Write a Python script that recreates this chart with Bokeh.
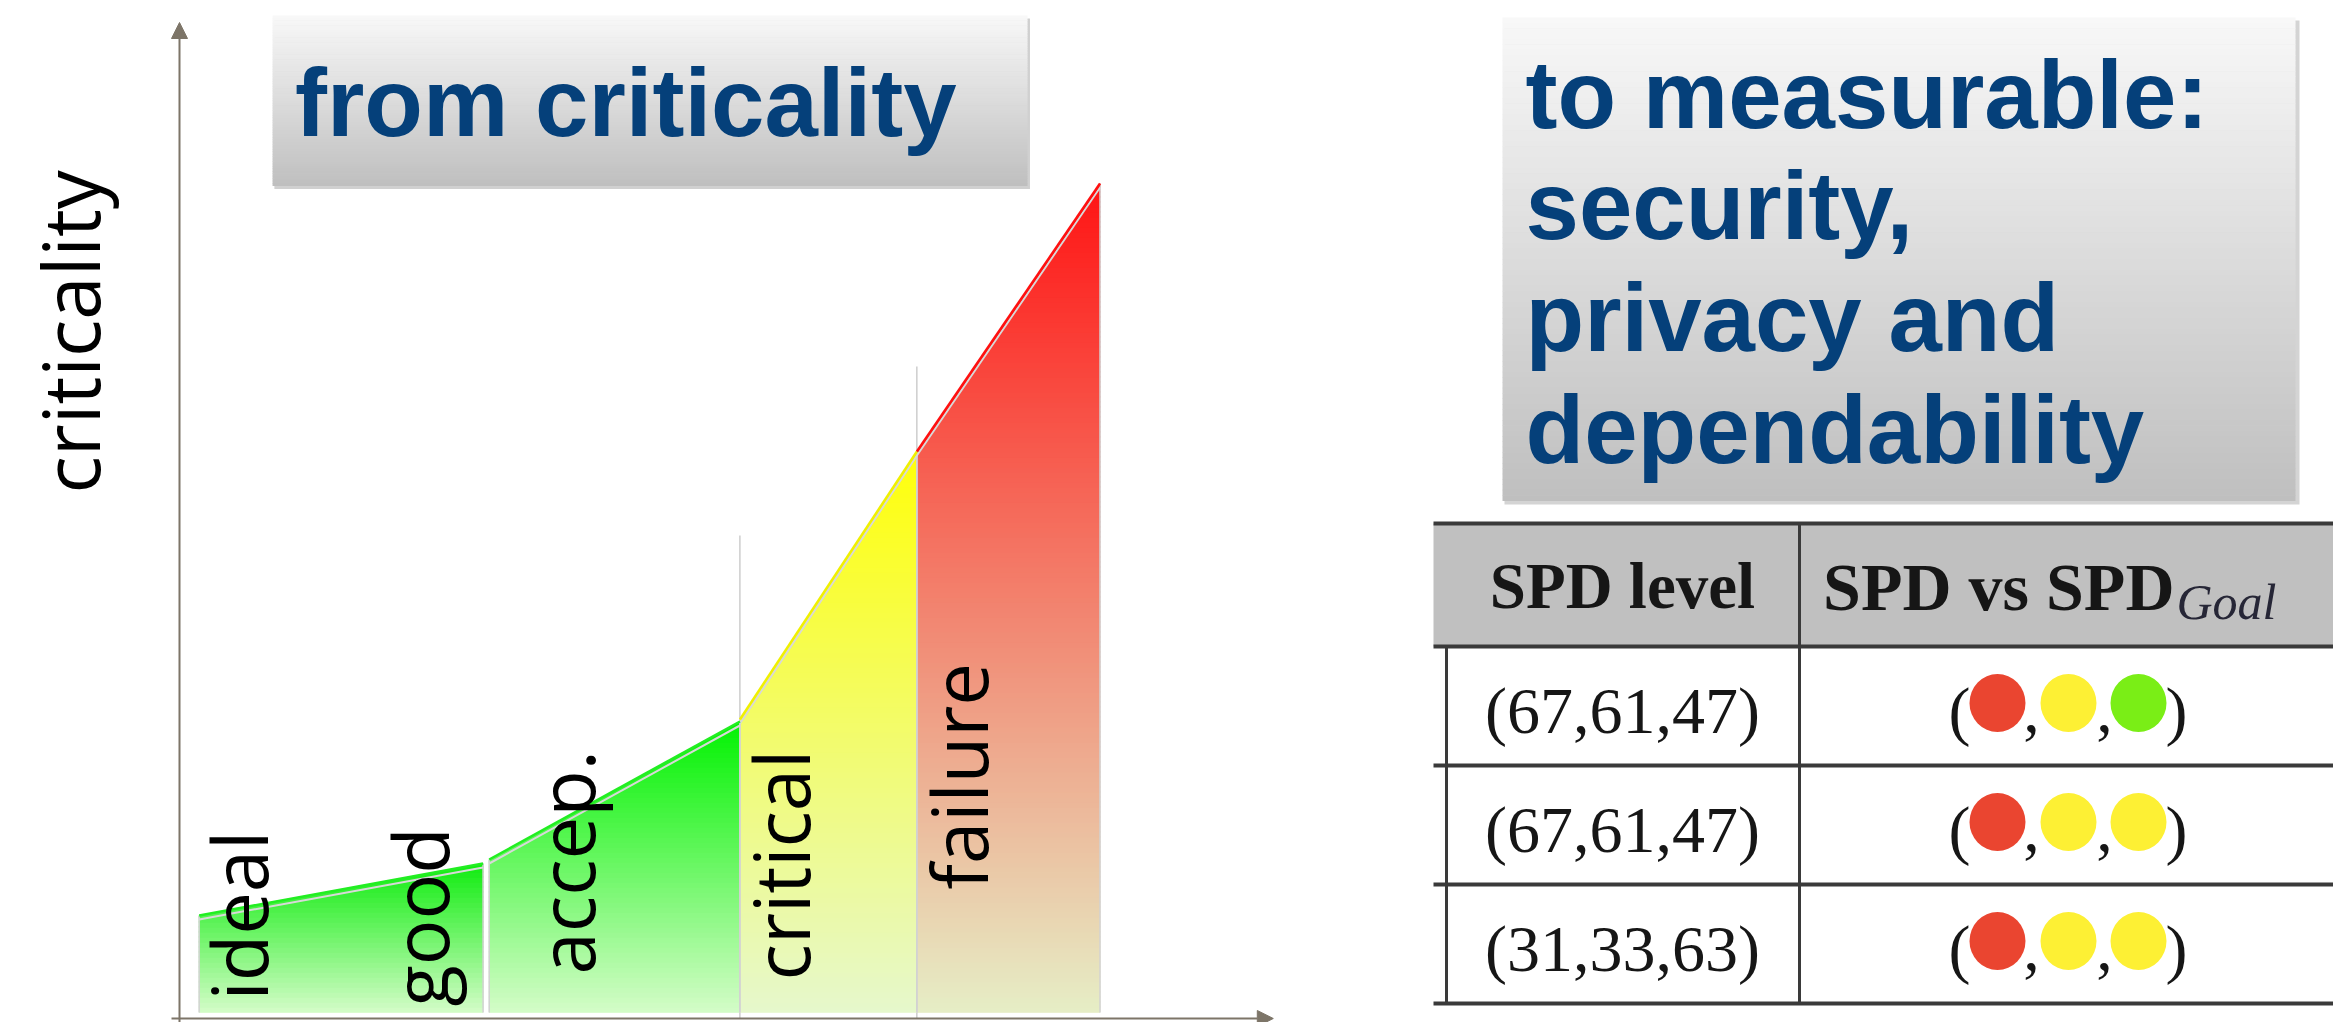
import math
from bokeh.plotting import figure
from bokeh.layouts import row
from bokeh.models import Range1d, Arrow, NormalHead
from bokeh.core.properties import value
from bokeh.embed import file_html
from bokeh.resources import INLINE

# ---------------- data ----------------
axis_title = "criticality"
left_title = "from criticality"
right_title_lines = ["to measurable:", "security,", "privacy and", "dependability"]

# criticality zones (x in state units, top = criticality at zone start / end)
zone_names = ["ideal-good", "accep.", "critical", "failure"]
zone_x_start = [1.6, 25.2, 45.6, 60.0]
zone_x_end = [24.7, 45.6, 60.0, 74.9]
zone_top_start = [10.3, 15.9, 29.9, 56.7]
zone_top_end = [15.5, 29.7, 56.7, 83.5]
zone_color_top = ["#10ec10", "#02f202", "#ffff0a", "#ff1414"]
zone_color_bottom = ["#d4fcc8", "#d4fcc8", "#e6f8cc", "#e6eec6"]
zone_edge_color = ["#22ee22", "#22ee22", "#f0f000", "#ff1010"]

threshold_x = [45.6, 60.0]
threshold_top = [48.3, 65.2]

level_labels = ["ideal", "good", "accep.", "critical", "failure"]
level_label_x = [7.2, 21.9, 33.8, 51.3, 65.8]
level_label_y = [1.8, 1.2, 4.4, 3.8, 12.9]

table_header = ["SPD level", "SPD vs SPD"]
table_header_sub = "Goal"
spd_levels = ["(67,61,47)", "(67,61,47)", "(31,33,63)"]
spd_vs_goal = [["red", "yellow", "green"],
               ["red", "yellow", "yellow"],
               ["red", "yellow", "yellow"]]
status_colors = {"red": "#ea4530", "yellow": "#fdf034", "green": "#7aee16"}

# ---------------- helpers ----------------
LIB_MID = 0.3465   # (ascent - descent) / 2 for Liberation fonts
OS_MID = 0.388     # same for Open Sans

def hex2rgb(h):
    h = h.lstrip("#")
    return tuple(int(h[i:i + 2], 16) for i in (0, 2, 4))

def lerp(c1, c2, t):
    t = max(0.0, min(1.0, t))
    a, b = hex2rgb(c1), hex2rgb(c2)
    return "#%02x%02x%02x" % tuple(int(round(a[k] + (b[k] - a[k]) * t)) for k in range(3))

def clip_band(xs, ys, ylo, yhi):
    def clip(pts, keep, yc):
        out = []
        n = len(pts)
        for i in range(n):
            cur, prev = pts[i], pts[i - 1]
            cin, pin = keep(cur), keep(prev)
            if cin:
                if not pin:
                    t = (yc - prev[1]) / (cur[1] - prev[1])
                    out.append((prev[0] + t * (cur[0] - prev[0]), yc))
                out.append(cur)
            elif pin:
                t = (yc - prev[1]) / (cur[1] - prev[1])
                out.append((prev[0] + t * (cur[0] - prev[0]), yc))
        return out
    pts = list(zip(xs, ys))
    pts = clip(pts, lambda p: p[1] >= ylo, ylo)
    if pts:
        pts = clip(pts, lambda p: p[1] <= yhi, yhi)
    return pts

# ---------------- left figure: criticality chart ----------------
LW, H = 1400, 1022
X0PX, Y0PX = 179, 1018          # pixel position of the chart origin
SX, SY = 12.29, 10.0            # pixels per unit
left = figure(width=LW, height=H,
              x_range=Range1d(-X0PX / SX, (LW - X0PX) / SX),
              y_range=Range1d(-(H - Y0PX) / SY, Y0PX / SY),
              toolbar_location=None, output_backend="svg", min_border=0,
              x_axis_location=None, y_axis_location=None,
              outline_line_color=None, background_fill_color="white",
              border_fill_color="white")
left.grid.visible = False

# title box with vertical gradient
bx0, bx1, btop, bbot = 7.57, 69.0, 100.3, 83.3
left.quad(left=[bx0 + 0.15], right=[bx1 + 0.2], top=[btop - 0.3], bottom=[bbot - 0.35],
          fill_color="#a9a9a9", fill_alpha=0.55, line_color=None)
nb = 70
bh = (btop - bbot) / nb
left.quad(left=[bx0] * nb, right=[bx1] * nb,
          top=[btop - i * bh for i in range(nb)],
          bottom=[btop - (i + 1) * bh - 0.05 for i in range(nb)],
          fill_color=[lerp("#f8f8f8", "#bfbfbf", (i + 0.5) / nb) for i in range(nb)],
          line_color=None)
fs_title = 96
left.text(x=[9.4], y=[88.3 + LIB_MID * fs_title / SY], text=[left_title],
          text_font=value("Liberation Sans"), text_font_style="bold",
          text_font_size=f"{fs_title}px", text_color="#05407a",
          text_align="left", text_baseline="alphabetic")

# threshold markers
left.segment(x0=threshold_x, y0=[0] * len(threshold_x), x1=threshold_x, y1=threshold_top,
             line_color="#b4b4b4", line_width=1)

# zones with gradient fill (horizontal bands)
ZB = 0.6
band_xs, band_ys, band_cols = [], [], []
step = 0.5
for k in range(len(zone_x_start)):
    x0, x1 = zone_x_start[k], zone_x_end[k]
    t0, t1 = zone_top_start[k], zone_top_end[k]
    px = [x0, x1, x1, x0]
    py = [ZB, ZB, t1, t0]
    top = max(t0, t1)
    n = int(math.ceil((top - ZB) / step))
    for i in range(n):
        ylo = ZB + i * step
        yhi = min(top, ylo + step + 0.12)
        pts = clip_band(px, py, ylo, yhi)
        if len(pts) < 3:
            continue
        frac = (top - (ylo + step / 2)) / (top - ZB)
        c = lerp(zone_color_top[k], zone_color_bottom[k], frac)
        band_xs.append([p[0] for p in pts])
        band_ys.append([p[1] for p in pts])
        band_cols.append(c)
left.patches(band_xs, band_ys, fill_color=band_cols, line_color=band_cols, line_width=0.6)

# zone side edges
left.segment(x0=zone_x_start + zone_x_end, y0=[ZB] * 8,
             x1=zone_x_start + zone_x_end, y1=zone_top_start + zone_top_end,
             line_color="#d2d2d2", line_width=1.5)
# highlight + coloured top edges
left.segment(x0=zone_x_start, y0=[t - 0.4 for t in zone_top_start],
             x1=zone_x_end, y1=[t - 0.4 for t in zone_top_end],
             line_color="#d8d8d8", line_width=2)
left.segment(x0=zone_x_start, y0=zone_top_start, x1=zone_x_end, y1=zone_top_end,
             line_color=zone_edge_color, line_width=2.5)

# level labels (vertical, reading upwards)
fs_lab = 76
left.text(x=[v - OS_MID * fs_lab / SX for v in level_label_x], y=level_label_y,
          text=level_labels, angle=math.pi / 2,
          text_font=value("Open Sans"), text_font_size=f"{fs_lab}px", text_color="#000000",
          text_align="left", text_baseline="alphabetic")

# axis title
fs_ax = 78
left.text(x=[-6.43 - OS_MID * fs_ax / SX], y=[52.5], text=[axis_title], angle=math.pi / 2,
          text_font=value("Open Sans"), text_font_size=f"{fs_ax}px", text_color="#000000",
          text_align="left", text_baseline="alphabetic")

# axes with arrow heads
AX = "#7d7568"
left.add_layout(Arrow(end=NormalHead(size=16, fill_color=AX, line_color=AX),
                      x_start=0, y_start=-0.4, x_end=0, y_end=99.6,
                      line_color=AX, line_width=2))
left.add_layout(Arrow(end=NormalHead(size=16, fill_color=AX, line_color=AX),
                      x_start=-0.65, y_start=0, x_end=89.0, y_end=0,
                      line_color=AX, line_width=2))

# ---------------- right figure: title + table ----------------
RW = 2333 - LW
right = figure(width=RW, height=H, x_range=Range1d(0, RW), y_range=Range1d(H, 0),
               toolbar_location=None, output_backend="svg", min_border=0,
               x_axis_location=None, y_axis_location=None,
               outline_line_color=None, background_fill_color="white",
               border_fill_color="white")
right.grid.visible = False

rx0, rx1, rtop, rbot = 102, 895, 17, 500
right.quad(left=[rx0 + 2], right=[rx1 + 4], top=[rtop + 3], bottom=[rbot + 4],
           fill_color="#a9a9a9", fill_alpha=0.5, line_color=None)
nb = 90
rh = (rbot - rtop) / nb
right.quad(left=[rx0] * nb, right=[rx1] * nb,
           top=[rtop + i * rh for i in range(nb)],
           bottom=[rtop + (i + 1) * rh + 0.5 for i in range(nb)],
           fill_color=[lerp("#f8f8f8", "#bfbfbf", (i + 0.5) / nb) for i in range(nb)],
           line_color=None)
right.text(x=[125] * len(right_title_lines),
           y=[127 + 111.7 * i - LIB_MID * fs_title for i in range(len(right_title_lines))],
           text=right_title_lines, text_font=value("Liberation Sans"),
           text_font_style="bold", text_font_size=f"{fs_title}px", text_color="#05407a",
           text_align="left", text_baseline="alphabetic")

# table
T_LEFT, T_TOP, T_HEAD, ROW_H = 33, 523, 646, 119
n_rows = len(spd_levels)
row_lines = [T_HEAD + ROW_H * (i + 1) for i in range(n_rows)]
t_bottom = row_lines[-1]
right.quad(left=[T_LEFT], right=[RW], top=[T_TOP], bottom=[T_HEAD],
           fill_color="#c0c0c0", line_color=None)
hl = [T_TOP, T_HEAD] + row_lines
right.segment(x0=[T_LEFT] * len(hl), y0=hl, x1=[RW] * len(hl), y1=hl,
              line_color="#3a3a3a", line_width=4)
right.segment(x0=[46, 399], y0=[T_HEAD, T_TOP], x1=[46, 399], y1=[t_bottom, t_bottom],
              line_color="#3a3a3a", line_width=3)

SERIF = value("Liberation Serif")
fs_h, fs_h2, fs_c, fs_sub = 65, 68, 66, 50
right.text(x=[222], y=[608 - LIB_MID * fs_h], text=[table_header[0]], text_font=SERIF,
           text_font_style="bold", text_font_size=f"{fs_h}px", text_color="#161616",
           text_align="center", text_baseline="alphabetic")
right.text(x=[774], y=[610 - LIB_MID * fs_h2], text=[table_header[1]], text_font=SERIF,
           text_font_style="bold", text_font_size=f"{fs_h2}px", text_color="#161616",
           text_align="right", text_baseline="alphabetic")
right.text(x=[776], y=[619 - LIB_MID * fs_sub], text=[table_header_sub], text_font=SERIF,
           text_font_style="italic", text_font_size=f"{fs_sub}px", text_color="#262636",
           text_align="left", text_baseline="alphabetic")

centers = [T_HEAD + ROW_H * (i + 0.5) for i in range(n_rows)]
baselines = [c + 27 - LIB_MID * fs_c for c in centers]
right.text(x=[222] * n_rows, y=baselines, text=spd_levels, text_font=SERIF,
           text_font_size=f"{fs_c}px", text_color="#161616", text_align="center",
           text_baseline="alphabetic")
dot_x = [597, 668, 738]
ex, ey, ec = [], [], []
for i, states in enumerate(spd_vs_goal):
    for j, s in enumerate(states):
        ex.append(dot_x[j])
        ey.append(centers[i] - 3)
        ec.append(status_colors[s])
right.ellipse(x=ex, y=ey, width=56, height=58, fill_color=ec, line_color=None)
right.text(x=[570] * n_rows, y=baselines, text=["("] * n_rows, text_font=SERIF,
           text_font_size=f"{fs_c}px", text_color="#161616", text_align="right",
           text_baseline="alphabetic")
right.text(x=[765] * n_rows, y=baselines, text=[")"] * n_rows, text_font=SERIF,
           text_font_size=f"{fs_c}px", text_color="#161616", text_align="left",
           text_baseline="alphabetic")
right.text(x=[631] * n_rows + [704] * n_rows, y=baselines * 2, text=[","] * (2 * n_rows),
           text_font=SERIF, text_font_size=f"{fs_c}px", text_color="#161616",
           text_align="center", text_baseline="alphabetic")

layout = row(left, right, spacing=0)
open("out.html", "w").write(file_html(layout, INLINE))
